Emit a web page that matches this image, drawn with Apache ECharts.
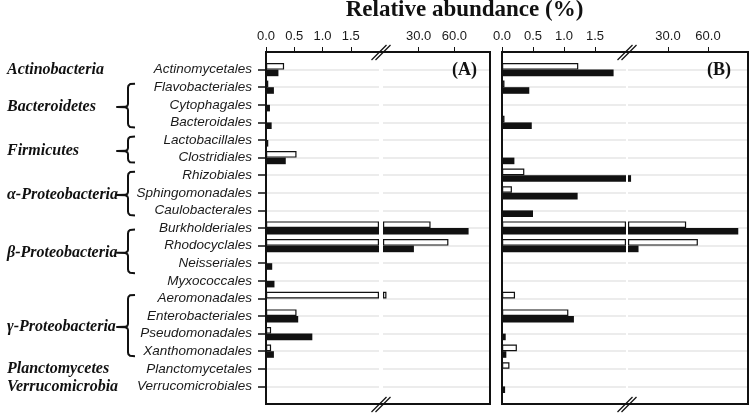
<!DOCTYPE html>
<html><head><meta charset="utf-8">
<script src="https://cdn.jsdelivr.net/npm/echarts@6/dist/echarts.min.js"></script>
<style>html,body{margin:0;padding:0;background:#fff}#c{width:750px;height:413px}</style>
</head><body><div id="c"></div>
<script>
// ---------- data ----------
const categories = ['Actinomycetales','Flavobacteriales','Cytophagales','Bacteroidales','Lactobacillales','Clostridiales','Rhizobiales','Sphingomonadales','Caulobacterales','Burkholderiales','Rhodocyclales','Neisseriales','Myxococcales','Aeromonadales','Enterobacteriales','Pseudomonadales','Xanthomonadales','Planctomycetales','Verrucomicrobiales'];
const phyla = ['Actinobacteria','Bacteroidetes','Firmicutes','α-Proteobacteria','β-Proteobacteria','γ-Proteobacteria','Planctomycetes','Verrucomicrobia'];
const phylumFirst = [0,1,4,6,9,13,17,18];
const phylumLast  = [0,3,5,8,11,16,17,18];
const panelNames = ['(A)','(B)'];
// panel A (white = open bars, black = filled bars), relative abundance %
const whiteA = [0.32,0.04,0,0,0,0.54,0,0,0,40,55,0,0,2.9,0.54,0.09,0.09,0,0];
const blackA = [0.22,0.14,0.07,0.10,0.04,0.35,0,0,0,72,26,0.11,0.15,0,0.57,0.82,0.14,0,0];
// panel B
const whiteB = [1.23,0.04,0,0.04,0,0,0.36,0.16,0,43.6,52.4,0,0,0.21,1.07,0,0.24,0.12,0];
const blackB = [1.80,0.44,0,0.48,0,0.20,2.3,1.22,0.50,82.7,7.9,0,0,0,1.16,0.06,0.07,0,0.05];
const lowTicks = [0, 0.5, 1.0, 1.5];
const highTicks = [30, 60];
const LOW_MAX = 2, HIGH_MAX = 90;
const titleText = 'Relative abundance (%)';

// ---------- layout ----------
const W = 750, H = 413, TOP = 52, BOTTOM = 9;
const panels = [
  {low:[266,379], high:[383,490], white: whiteA, black: blackA, labelPad: 13},
  {low:[502,626], high:[628,748], white: whiteB, black: blackB, labelPad: 17}
];
const bracketShift = [0,0,0,0,5,0,0,0];
const yData = [' '].concat(categories, ['  ']);
const INK = '#111';

const chart = echarts.init(document.getElementById('c'), null, {renderer:'canvas'});
const grids = [], xAxes = [], yAxes = [], series = [];

panels.forEach((p, pi) => {
  [['low', LOW_MAX, lowTicks], ['high', HIGH_MAX, highTicks]].forEach(([key, max, ticks], si) => {
    const g = grids.length;
    const [l, r] = p[key];
    grids.push({left: l, right: W - r, top: TOP, bottom: BOTTOM});
    xAxes.push({
      gridIndex: g, type: 'value', position: 'top', min: 0, max: max,
      axisLine: {show: false}, splitLine: {show: false},
      axisTick: {show: true, inside: false, length: 5, customValues: ticks, lineStyle: {color: INK, width: 1}},
      axisLabel: {customValues: ticks, formatter: v => Number(v).toFixed(1),
        fontFamily: 'Liberation Sans', fontSize: 13, color: '#1a1a1a', margin: 9}
    });
    const showCats = (pi === 0 && si === 0);
    yAxes.push({
      gridIndex: g, type: 'category', data: yData, boundaryGap: false, inverse: true,
      axisLine: {show: false},
      axisTick: {show: showCats, inside: false, length: 8,
        interval: (i) => i > 0 && i < yData.length - 1, lineStyle: {color: INK, width: 1.5}},
      axisLabel: {show: showCats, interval: 0, fontFamily: 'Liberation Sans', fontStyle: 'italic',
        fontSize: 13.5, color: '#1a1a1a', margin: 14},
      splitLine: {show: true, interval: 0, lineStyle: {color: '#e6e6e6', width: 1.5}}
    });
    const conv = arr => [null].concat(arr.map(v => {
      if (si === 0) return v > 0 ? Math.min(v, max) : null;
      return v > LOW_MAX ? v : null;
    }), [null]);
    series.push({type: 'bar', xAxisIndex: g, yAxisIndex: g, data: conv(p.white), barWidth: 6.6, barGap: '0%',
      itemStyle: {color: '#fff', borderColor: INK, borderWidth: 1.2}, silent: true});
    series.push({type: 'bar', xAxisIndex: g, yAxisIndex: g, data: conv(p.black), barWidth: 6.6, barGap: '0%',
      itemStyle: {color: INK}, silent: true});
  });
});
// frames around panels
panels.forEach(p => {
  const g = grids.length;
  grids.push({left: p.low[0], right: W - p.high[1], top: TOP, bottom: BOTTOM, show: true,
    borderColor: INK, borderWidth: 2, backgroundColor: 'transparent', z: 10});
  xAxes.push({gridIndex: g, type: 'value', show: false, min: 0, max: 1});
  yAxes.push({gridIndex: g, type: 'value', show: false, min: 0, max: 1});
});

chart.setOption({animation: false, grid: grids, xAxis: xAxes, yAxis: yAxes, series: series});

// ---------- annotations ----------
const yOf = i => chart.convertToPixel({yAxisIndex: 0}, i + 1);
const graphics = [];
graphics.push({type: 'text', x: 464.5, y: 10, style: {text: titleText, fontFamily: 'Liberation Serif',
  fontWeight: 'bold', fontSize: 23, fill: INK, align: 'center', verticalAlign: 'middle'}});
panels.forEach((p, pi) => {
  graphics.push({type: 'text', x: p.high[1] - p.labelPad, y: yOf(0) + 0.5, style: {text: panelNames[pi],
    fontFamily: 'Liberation Serif', fontWeight: 'bold', fontSize: 18, fill: INK, align: 'right', verticalAlign: 'middle'}});
  const c = (p.low[1] + p.high[0]) / 2 + 0.5;
  [TOP - 7, H - BOTTOM - 7].forEach(y0 => {
    graphics.push({type: 'line', shape: {x1: c - 10, y1: y0 + 15, x2: c + 5, y2: y0}, style: {stroke: INK, lineWidth: 1.2}, z: 20});
    graphics.push({type: 'line', shape: {x1: c - 6, y1: y0 + 15, x2: c + 9, y2: y0}, style: {stroke: INK, lineWidth: 1.2}, z: 20});
  });
});
const xv = 128, xh = 135, xp = 117;
phyla.forEach((name, k) => {
  const a = phylumFirst[k], b = phylumLast[k];
  let ty;
  if (b > a) {
    const s = bracketShift[k];
    const yt = yOf(a) - 3.5 + s, yb = yOf(b) + 5 + s;
    const ym = (yt + yb) / 2 + 1.5;
    ty = ym;
    const pts = [[xh, yt], [xv + 2, yt + 0.4], [xv + 0.4, yt + 2], [xv, yt + 4],
                 [xv, ym - 3], [xv - 0.6, ym - 1.2], [xv - 2.5, ym - 0.2], [xp, ym],
                 [xv - 2.5, ym + 0.2], [xv - 0.6, ym + 1.2], [xv, ym + 3],
                 [xv, yb - 4], [xv + 0.4, yb - 2], [xv + 2, yb - 0.4], [xh, yb]];
    graphics.push({type: 'polyline', shape: {points: pts}, style: {stroke: INK, lineWidth: 2, fill: null, lineJoin: 'round'}});
  } else {
    ty = yOf(a);
  }
  graphics.push({type: 'text', x: 7, y: ty, style: {text: name, fontFamily: 'Liberation Serif',
    fontWeight: 'bold', fontStyle: 'italic', fontSize: 16, fill: INK, align: 'left', verticalAlign: 'middle'}});
});
chart.setOption({graphic: graphics});
</script></body></html>
